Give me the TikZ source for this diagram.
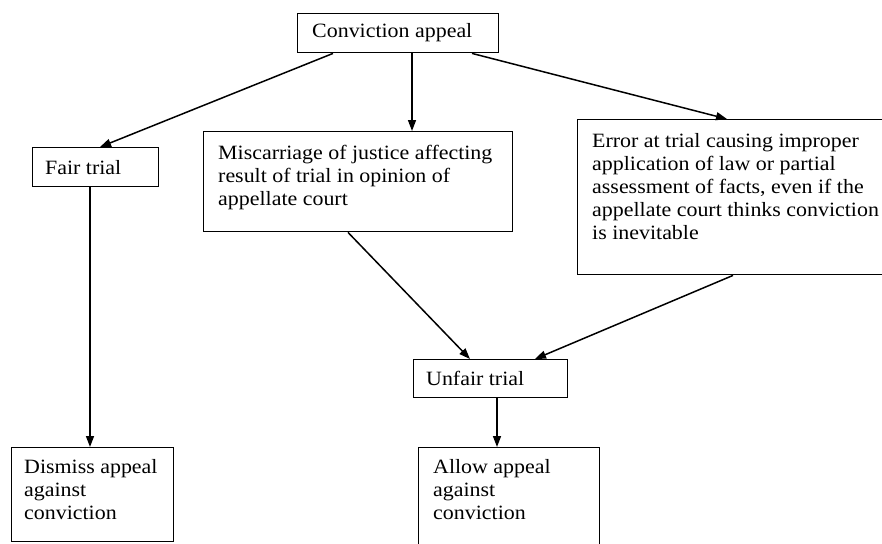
\documentclass[tikz,border=0pt]{standalone}
\usepackage{fontspec}
\setmainfont[FakeStretch=1.08]{Liberation Serif}
\usetikzlibrary{calc,arrows.meta}
\begin{document}
\begin{tikzpicture}[x=1pt,y=-1pt,
  box/.style={draw, line width=1.4pt, anchor=north west, inner sep=0pt},
  txt/.style={anchor=north west, inner sep=0pt, align=left, font=\fontsize{20.3}{23}\selectfont},
  arr/.style={-{Triangle[length=11pt,width=8pt]}, line width=1.5pt}]
\clip (0,0) rectangle (882,543);
% boxes
\node[box, minimum width=201, minimum height=39] (ca) at (297,13) {};
\node[box, minimum width=126, minimum height=39] (fair) at (32,147) {};
\node[box, minimum width=309, minimum height=100] (mis) at (203,131) {};
\node[box, minimum width=312, minimum height=155] (err) at (577,119) {};
\node[box, minimum width=154, minimum height=38] (unfair) at (413,359) {};
\node[box, minimum width=162, minimum height=94] (dis) at (11,447) {};
\node[box, minimum width=181, minimum height=104] (allow) at (418,447) {};
% texts
\node[txt] (cat) at (312,21.5) {\strut Conviction appeal};
\node[txt] (fairt) at (45,158) {\strut Fair trial};
\node[txt] (mist) at (218,143) {\strut Miscarriage of justice affecting\\result of trial in opinion of\\appellate court};
\node[txt] (errt) at (592,131) {\strut Error at trial causing improper\\application of law or partial\\assessment of facts, even if the\\appellate court thinks conviction\\is inevitable};
\node[txt] (unfairt) at (426,369) {\strut Unfair trial};
\node[txt] (dist) at (24,457) {\strut Dismiss appeal\\against\\conviction};
\node[txt] (allowt) at (433,457) {\strut Allow appeal\\against\\conviction};
% connectors
\draw[arr] ($(ca.south west)+(36,0)$) -- ($(fair.north west)+(68,0)$);
\draw[arr] ($(ca.south west)+(115,0)$) -- ($(mis.north west)+(209,0)$);
\draw[arr] ($(ca.south west)+(175,0)$) -- ($(err.north west)+(150,0)$);
\draw[arr] ($(fair.south west)+(58,0)$) -- ($(dis.north west)+(79,0)$);
\draw[arr] ($(mis.south west)+(145,0)$) -- ($(unfair.north west)+(57,0)$);
\draw[arr] ($(err.south west)+(156,0)$) -- ($(unfair.north west)+(122,0)$);
\draw[arr] ($(unfair.south west)+(84,0)$) -- ($(allow.north west)+(79,0)$);
\end{tikzpicture}
\end{document}
